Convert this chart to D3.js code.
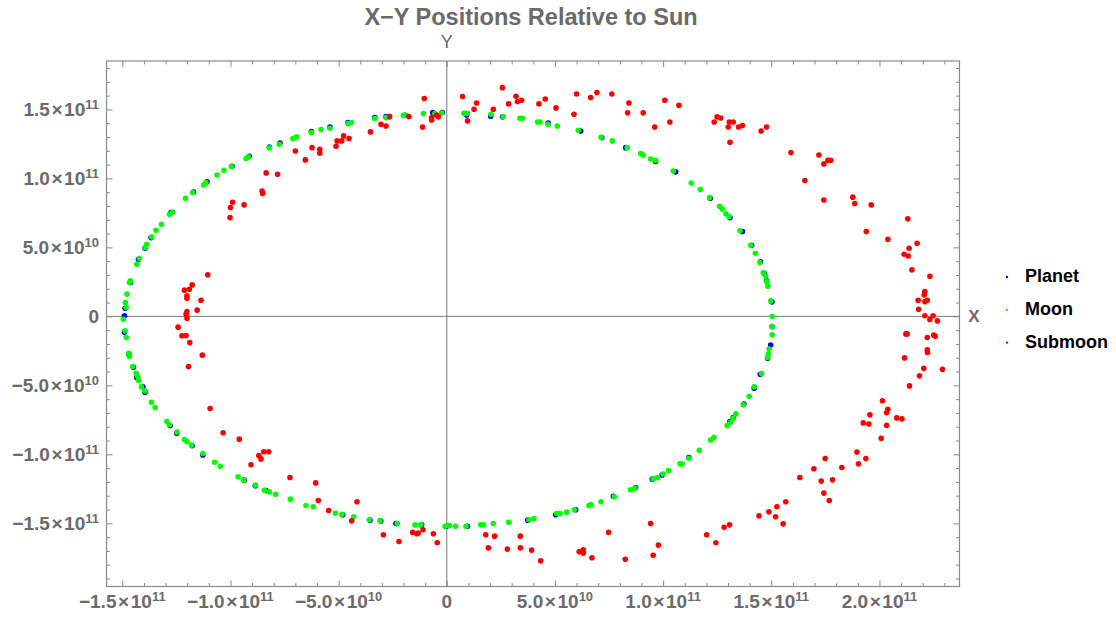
<!DOCTYPE html>
<html>
<head>
<meta charset="utf-8">
<script src="https://cdn.jsdelivr.net/npm/d3@7"></script>
<style>
  html, body { margin: 0; padding: 0; background: #ffffff; }
  svg { display: block; font-family: "Liberation Sans", Arial, sans-serif; }
</style>
</head>
<body>
<svg id="chart" width="1116" height="619"></svg>
<script>
// Positions are stored in units of 1e10 m (x, y relative to the Sun).
const UNIT = 1e10;

const planet = [
  [-14.90,0.04],[-14.87,0.59],[-14.62,2.45],[-14.25,4.14],[-13.95,4.94],[-13.67,5.71],[-12.75,7.52],
  [-11.71,9.02],[-11.08,9.75],[-9.93,10.88],[-9.13,11.61],[-8.20,12.28],[-7.71,12.57],[-6.26,13.39],
  [-5.40,13.73],[-4.57,14.05],[-3.33,14.41],[-2.81,14.48],[-2.66,14.48],[-1.93,14.58],[-0.65,14.77],
  [-0.21,14.77],[0.92,14.60],[2.03,14.50],[2.58,14.46],[4.69,14.02],[6.19,13.44],[7.16,12.96],
  [8.27,12.23],[9.65,11.22],[10.58,10.47],[12.18,8.56],[13.09,7.16],[13.67,6.15],[14.09,5.16],
  [14.50,3.95],[14.67,3.13],[14.78,2.57],[15.03,1.05],[15.04,-0.74],[14.97,-2.07],[14.83,-3.03],
  [14.49,-4.19],[14.21,-5.21],[13.73,-6.36],[13.24,-7.33],[13.09,-7.62],[11.19,-10.23],[9.96,-11.49],
  [9.50,-11.80],[8.73,-12.40],[7.70,-13.05],[5.96,-14.02],[5.03,-14.38],[3.74,-14.77],[0.95,-15.21],
  [-0.01,-15.21],[-1.16,-15.11],[-2.35,-15.01],[-3.05,-14.84],[-3.55,-14.77],[-4.81,-14.38],
  [-8.35,-12.62],[-8.85,-12.28],[-9.37,-11.87],[-11.28,-10.04],[-11.77,-9.38],[-12.48,-8.47],
  [-12.79,-7.91],[-13.95,-5.50],[-14.05,-5.11],[-14.33,-4.43],[-14.49,-3.68],[-14.70,-2.74],[-14.90,-1.15]
];

const moon = [
  [-14.95,-0.21],[-14.82,0.64],[-14.86,1.00],[-14.78,1.61],[-14.67,2.45],[-14.62,2.57],[-14.33,3.78],
  [-14.21,4.19],[-13.95,4.99],[-13.87,5.23],[-13.64,5.76],[-13.44,6.24],[-13.19,6.68],[-12.82,7.40],
  [-12.67,7.57],[-12.08,8.56],[-11.74,8.97],[-11.24,9.53],[-11.13,9.70],[-10.62,10.25],[-10.30,10.59],
  [-9.96,10.86],[-9.28,11.44],[-9.17,11.56],[-8.20,12.23],[-7.74,12.48],[-7.12,12.89],[-6.94,13.01],
  [-6.26,13.32],[-5.81,13.54],[-5.40,13.64],[-4.57,13.97],[-4.41,14.05],[-3.33,14.34],[-2.81,14.41],
  [-2.01,14.58],[-1.89,14.58],[-1.08,14.70],[-0.55,14.70],[-0.24,14.75],[0.79,14.72],[0.95,14.72],
  [2.04,14.65],[2.61,14.48],[3.38,14.36],[3.49,14.36],[4.20,14.09],[4.31,14.09],[4.68,13.93],
  [5.11,13.80],[6.08,13.49],[7.13,12.98],[7.65,12.72],[8.34,12.23],[8.96,11.80],[9.08,11.70],
  [9.42,11.41],[9.65,11.32],[10.47,10.54],[11.30,9.67],[11.72,9.19],[12.15,8.61],[12.61,7.98],
  [12.73,7.79],[12.90,7.43],[13.05,7.22],[13.55,6.20],[14.04,5.16],[14.26,4.58],[14.47,3.90],[14.63,3.18],
  [14.74,2.93],[14.78,2.52],[14.84,2.19],[14.98,1.12],[15.04,-0.01],[15.04,-0.74],[15.04,-1.34],
  [14.90,-2.36],[14.86,-2.74],[14.83,-2.98],[14.55,-4.14],[14.21,-5.11],[13.98,-5.79],[13.70,-6.41],
  [13.36,-7.07],[13.22,-7.38],[13.12,-7.67],[12.96,-7.91],[12.35,-8.76],[12.19,-8.97],[11.67,-9.70],[11.19,-10.28],
  [10.88,-10.69],[10.78,-10.69],[10.25,-11.17],[10.00,-11.43],[9.73,-11.70],[9.54,-11.78],[8.70,-12.45],[8.50,-12.57],
  [7.74,-13.08],[7.13,-13.44],[6.66,-13.64],[6.57,-13.71],[5.89,-14.02],[5.54,-14.19],[5.23,-14.29],
  [5.08,-14.29],[4.03,-14.65],[3.80,-14.75],[2.86,-14.92],[2.15,-15.01],[1.69,-15.11],[1.57,-15.11],
  [0.89,-15.21],[0.41,-15.21],[0.12,-15.16],[-0.08,-15.21],[-1.20,-15.11],[-1.47,-15.11],[-2.29,-15.01],[-3.09,-14.82],
  [-3.58,-14.75],[-4.30,-14.53],[-4.85,-14.35],[-5.15,-14.26],[-6.17,-13.80],[-6.51,-13.71],[-7.23,-13.25],[-7.91,-12.89],
  [-8.20,-12.72],[-8.43,-12.60],[-8.85,-12.23],[-9.40,-11.87],[-9.65,-11.63],[-10.47,-10.86],[-10.73,-10.57],
  [-11.28,-9.94],[-11.80,-9.33],[-12.01,-9.07],[-12.13,-8.93],[-12.47,-8.39],[-12.82,-7.86],[-12.94,-7.62],[-13.48,-6.61],
  [-13.65,-6.22],[-13.95,-5.40],[-14.12,-5.11],[-14.25,-4.65],[-14.29,-4.36],[-14.36,-4.12],[-14.52,-3.64],[-14.67,-2.91],
  [-14.70,-2.67],[-14.82,-1.53],[-14.87,-1.05]
];

const submoon = [
  [-3.04,13.93],[-2.81,13.80],[-2.64,14.48],[-3.53,13.37],[-4.77,13.08],[-5.07,12.72],[-4.86,12.72],
  [-4.52,12.89],[-5.12,12.33],[-6.23,12.23],[-5.87,12.11],[-5.87,11.82],[-7.00,11.99],[-6.54,11.34],
  [-8.35,10.40],[-7.82,10.30],[-8.54,9.09],[-8.51,8.90],[-9.90,8.27],[-10.00,7.89],[-9.37,8.08],
  [-10.02,7.16],[-11.05,3.01],[-11.77,2.28],[-11.90,1.97],[-12.13,1.90],[-12.01,1.49],[-12.01,1.32],
  [-11.36,1.17],[-11.54,0.45],[-12.01,0.35],[-12.05,0.16],[-12.01,-0.13],
  [-1.04,15.79],[-1.12,13.73],[-0.70,14.41],[-0.70,14.24],[-0.47,14.60],[-0.39,14.46],[-1.75,14.48],
  [0.73,15.93],[1.38,15.47],[1.26,15.01],[0.96,14.17],[2.57,16.58],[2.86,15.40],[3.20,15.95],
  [3.27,15.57],[3.46,15.66],[2.15,15.01],[4.26,15.40],[4.55,15.76],[5.05,15.11],[6.00,16.12],
  [5.88,14.65],[6.65,15.86],[6.94,16.22],[7.63,16.12],[8.42,15.47],[8.36,14.75],[9.08,14.75],
  [9.61,13.73],[10.08,15.66],
  [10.31,14.09],[10.73,15.30],[12.36,14.09],[12.49,14.46],[12.66,14.38],[13.01,13.73],[13.06,14.09],
  [13.24,14.09],[13.09,12.62],[13.49,13.73],[13.67,13.83],[14.53,13.44],[14.78,13.73],[15.91,11.87],
  [16.55,9.84],[17.20,11.70],[17.43,11.05],[17.62,11.32],[17.75,11.32],[17.43,8.44],[18.77,8.64],
  [18.86,8.18],[19.62,8.08],[19.39,6.15],[20.39,5.59],[21.31,7.07],[21.74,5.30],[21.37,4.94],
  [21.14,4.50],[21.33,4.38],[21.50,3.37],[22.33,2.91],[22.10,1.80],[22.07,1.56],[21.79,1.17],
  [22.10,1.07],[22.21,1.17],[21.81,0.52],[22.10,0.04],[22.33,-0.23],[22.48,0.04],[22.68,-0.33],
  [21.22,-1.27],[21.28,-1.27],[22.21,-1.53],[22.51,-1.36],[22.58,-1.44],[22.21,-2.43],[22.22,-2.62],
  [21.16,-3.01],[22.91,-3.83],[22.05,-3.76],[21.85,-4.31],[21.39,-5.04],[20.14,-6.12],[20.39,-6.73],
  [20.33,-6.99],[19.56,-7.14],[19.25,-7.72],[19.51,-7.81],[20.33,-7.89],[20.80,-7.36],[21.04,-7.43],
  [20.08,-8.83],[18.96,-9.84],[19.37,-10.30],[19.03,-10.69],[17.49,-10.30],[16.97,-11.05],[18.26,-10.95],
  [16.32,-11.68],[17.31,-11.94],[17.83,-11.85],[17.43,-12.81],[17.68,-13.35],[15.67,-13.44],[15.26,-13.80],
  [14.89,-14.17],[15.20,-14.53],[14.43,-14.46],[15.55,-15.04],[13.07,-15.11],[12.82,-15.28],[12.01,-15.83],
  [12.44,-16.41],
  [-2.21,-16.32],[-1.58,-15.66],[-1.39,-15.76],[-1.32,-15.71],[-1.10,-15.47],[-0.62,-15.76],[-0.44,-16.41],
  [1.80,-15.83],[2.21,-15.93],[1.92,-16.78],[2.80,-16.87],[3.40,-15.93],[3.40,-16.78],[3.92,-16.94],
  [4.34,-17.72],[6.12,-17.07],[6.31,-16.92],[6.31,-17.16],[6.71,-17.50],[7.48,-15.66],[8.25,-17.60],
  [9.42,-15.01],[9.78,-16.58],[9.54,-17.31],
  [-12.42,-0.78],[-12.24,-1.41],[-12.05,-1.39],[-11.88,-1.90],[-11.30,-2.81],[-11.94,-3.64],[-10.94,-6.68],
  [-10.34,-8.44],[-9.59,-8.90],[-8.69,-10.08],[-8.59,-10.33],[-8.46,-9.82],[-8.23,-9.82],[-9.05,-10.76],
  [-7.25,-11.68],[-6.06,-12.07],[-5.94,-13.35],[-5.46,-14.07],[-4.15,-13.44],[-4.40,-14.82],[-2.93,-15.83]
];

const seriesNames = ["Planet", "Moon", "Submoon"];
const seriesColors = ["#0000ff", "#00ff00", "#ff0000"];

// Frame ticks: labelled majors every 5e10, minors every 1e10.
const xMajorTicks = [-1.5e11, -1.0e11, -5e10, 0, 5e10, 1.0e11, 1.5e11, 2.0e11];
const yMajorTicks = [-1.5e11, -1.0e11, -5e10, 0, 5e10, 1.0e11, 1.5e11];
const xMinorTicks = d3.range(-15, 24).map(k => k * 1e10);
const yMinorTicks = d3.range(-19, 19).map(k => k * 1e10);

const plotTitle = "X\u2212Y Positions Relative to Sun";
const xAxisLabel = "X";
const yAxisLabel = "Y";

// Plot range
const xDomain = [-15.73e10, 23.70e10];
const yDomain = [-19.58e10, 18.51e10];

const frame = { left: 106.5, right: 959.5, top: 61, bottom: 586.5 };
const grey = "#6a6a6a";

const svg = d3.select("#chart");
svg.append("rect").attr("width", 1116).attr("height", 619).attr("fill", "#fff");

const x = d3.scaleLinear().domain(xDomain).range([frame.left, frame.right]);
const y = d3.scaleLinear().domain(yDomain).range([frame.bottom, frame.top]);

// Axes through the origin
svg.append("line")
  .attr("x1", frame.left).attr("x2", frame.right)
  .attr("y1", y(0)).attr("y2", y(0))
  .attr("stroke", "#7a7a7a").attr("stroke-width", 1);
svg.append("line")
  .attr("x1", x(0)).attr("x2", x(0))
  .attr("y1", frame.top).attr("y2", frame.bottom)
  .attr("stroke", "#7a7a7a").attr("stroke-width", 1);

// Points: Planet, then Moon, then Submoon on top
const seriesData = [planet, moon, submoon];
seriesData.forEach((pts, i) => {
  svg.append("g")
    .selectAll("circle")
    .data(pts)
    .join("circle")
    .attr("cx", d => x(d[0] * UNIT))
    .attr("cy", d => y(d[1] * UNIT))
    .attr("r", 2.8)
    .attr("fill", seriesColors[i]);
});

// Frame with inward ticks on all four sides
function frameAxis(axisFn, scale, vals, size, transform) {
  const g = svg.append("g").attr("transform", transform)
    .call(axisFn(scale).tickValues(vals).tickSize(size).tickFormat(""));
  g.select(".domain").remove();
  g.selectAll(".tick line").attr("stroke", "#8a8a8a").attr("stroke-width", 1);
  return g;
}
const xMinorOnly = xMinorTicks.filter(v => !xMajorTicks.some(m => Math.abs(m - v) < 1));
const yMinorOnly = yMinorTicks.filter(v => !yMajorTicks.some(m => Math.abs(m - v) < 1));

frameAxis(d3.axisBottom, x, xMajorTicks, -6, `translate(0,${frame.bottom})`);
frameAxis(d3.axisBottom, x, xMinorOnly, -3.5, `translate(0,${frame.bottom})`);
frameAxis(d3.axisTop, x, xMajorTicks, -6, `translate(0,${frame.top})`);
frameAxis(d3.axisTop, x, xMinorOnly, -3.5, `translate(0,${frame.top})`);
frameAxis(d3.axisLeft, y, yMajorTicks, -6, `translate(${frame.left},0)`);
frameAxis(d3.axisLeft, y, yMinorOnly, -3.5, `translate(${frame.left},0)`);
frameAxis(d3.axisRight, y, yMajorTicks, -6, `translate(${frame.right},0)`);
frameAxis(d3.axisRight, y, yMinorOnly, -3.5, `translate(${frame.right},0)`);

svg.append("rect")
  .attr("x", frame.left).attr("y", frame.top)
  .attr("width", frame.right - frame.left).attr("height", frame.bottom - frame.top)
  .attr("fill", "none").attr("stroke", "#8a8a8a").attr("stroke-width", 1.2);

// Scientific tick labels: mantissa x 10^exponent
function sciParts(v) {
  if (v === 0) return { m: "0", e: null };
  const e = Math.floor(Math.log10(Math.abs(v)) + 1e-9);
  const m = v / Math.pow(10, e);
  return { m: (m < 0 ? "\u2212" : "") + Math.abs(m).toFixed(1), e: String(e) };
}
function writeLabel(sel) {
  sel.each(function (d) {
    const t = d3.select(this);
    const p = sciParts(d);
    if (p.e === null) { t.append("tspan").text(p.m); return; }
    t.append("tspan").text(p.m + "\u200a\u00d7\u200a10");
    t.append("tspan").attr("font-size", 13).attr("dy", -7).text(p.e);
  });
}
const labelFont = { size: 19, weight: "bold" };

svg.append("g").selectAll("text")
  .data(xMajorTicks)
  .join("text")
  .attr("x", d => x(d))
  .attr("y", 608)
  .attr("text-anchor", "middle")
  .attr("font-size", labelFont.size).attr("font-weight", labelFont.weight)
  .attr("fill", grey)
  .call(writeLabel);

svg.append("g").selectAll("text")
  .data(yMajorTicks)
  .join("text")
  .attr("x", 99)
  .attr("y", d => y(d) + 6.8)
  .attr("text-anchor", "end")
  .attr("font-size", labelFont.size).attr("font-weight", labelFont.weight)
  .attr("fill", grey)
  .call(writeLabel);

// Title and axis labels
svg.append("text")
  .attr("x", 531).attr("y", 25)
  .attr("text-anchor", "middle")
  .attr("font-size", 23.5).attr("font-weight", "bold")
  .attr("fill", grey)
  .text(plotTitle);

svg.append("text")
  .attr("x", x(0)).attr("y", 48)
  .attr("text-anchor", "middle")
  .attr("font-size", 18)
  .attr("fill", grey)
  .text(yAxisLabel);

svg.append("text")
  .attr("x", 974).attr("y", y(0) + 6)
  .attr("text-anchor", "middle")
  .attr("font-size", 17).attr("font-weight", "bold")
  .attr("fill", grey)
  .text(xAxisLabel);

// Legend
const legend = svg.append("g").attr("transform", "translate(1007,277)");
const rows = legend.selectAll("g")
  .data(seriesNames)
  .join("g")
  .attr("transform", (d, i) => `translate(0,${i * 32.8})`);
rows.append("circle").attr("r", 1.2).attr("fill", (d, i) => seriesColors[i]);
rows.append("text")
  .attr("x", 18).attr("y", 5)
  .attr("font-size", 18).attr("font-weight", "bold")
  .attr("fill", "#000")
  .text(d => d);
</script>
</body>
</html>
